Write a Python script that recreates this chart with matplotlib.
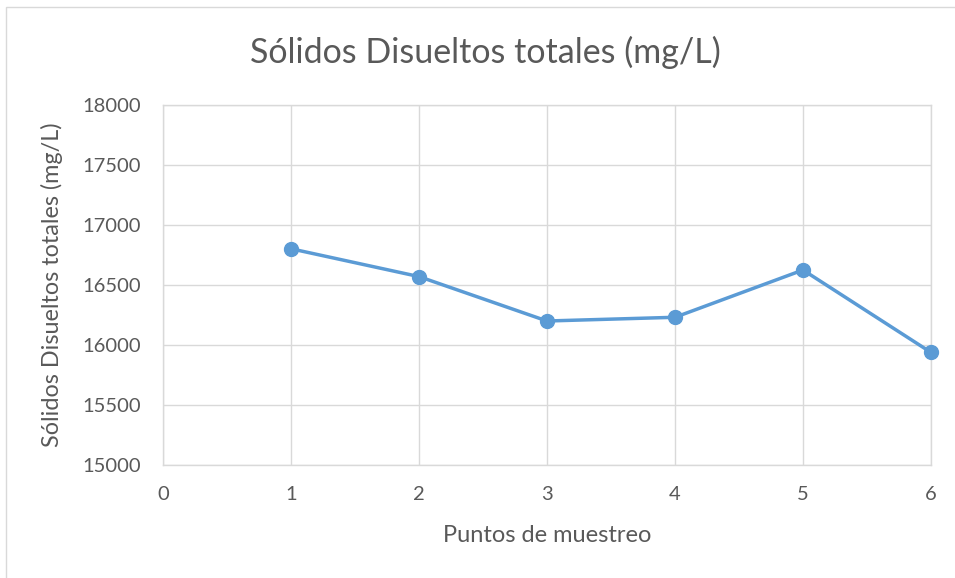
import matplotlib
matplotlib.use("Agg")
import matplotlib.pyplot as plt
from matplotlib.patches import Rectangle

puntos = [1, 2, 3, 4, 5, 6]
sdt = [16802, 16570, 16200, 16231, 16625, 15938]
x_ticks = [0, 1, 2, 3, 4, 5, 6]
y_ticks = [15000, 15500, 16000, 16500, 17000, 17500, 18000]

plt.rcParams['font.family'] = ['Lato', 'DejaVu Sans']
fig = plt.figure(figsize=(9.55, 5.78), dpi=100)
ax = fig.add_axes([163/955, 1-465/578, (931-163)/955, (465-105)/578])

fig.patches.append(Rectangle((6/955, -0.1), 1.2, 1-7/578+0.1, transform=fig.transFigure,
                             fill=False, edgecolor='#D9D9D9', linewidth=1))

ax.plot(puntos, sdt, color='#5B9BD5', linewidth=2.5, marker='o', markersize=10,
        markerfacecolor='#5B9BD5', markeredgecolor='#5B9BD5', zorder=3, clip_on=False)

ax.set_xlim(0, 6)
ax.set_ylim(15000, 18000)
ax.set_xticks(x_ticks)
ax.set_yticks(y_ticks)
ax.grid(True, color='#D9D9D9', linewidth=1)
ax.set_axisbelow(True)
for s in ax.spines.values():
    s.set_color('#D9D9D9')
    s.set_linewidth(1)
ax.tick_params(length=0, labelsize=14.5, labelcolor='#595959')
ax.tick_params(axis='y', pad=16)
ax.tick_params(axis='x', pad=15)

ax.set_xlabel('Puntos de muestreo', fontsize=17, color='#595959', labelpad=16)
ax.set_ylabel('Sólidos Disueltos totales (mg/L)', fontsize=16.8, color='#595959', labelpad=14)
fig.text(485/955, 1-52/578, 'Sólidos Disueltos totales (mg/L)', ha='center', va='center',
         fontsize=24.5, color='#595959')

fig.savefig('out.png', dpi=100)
